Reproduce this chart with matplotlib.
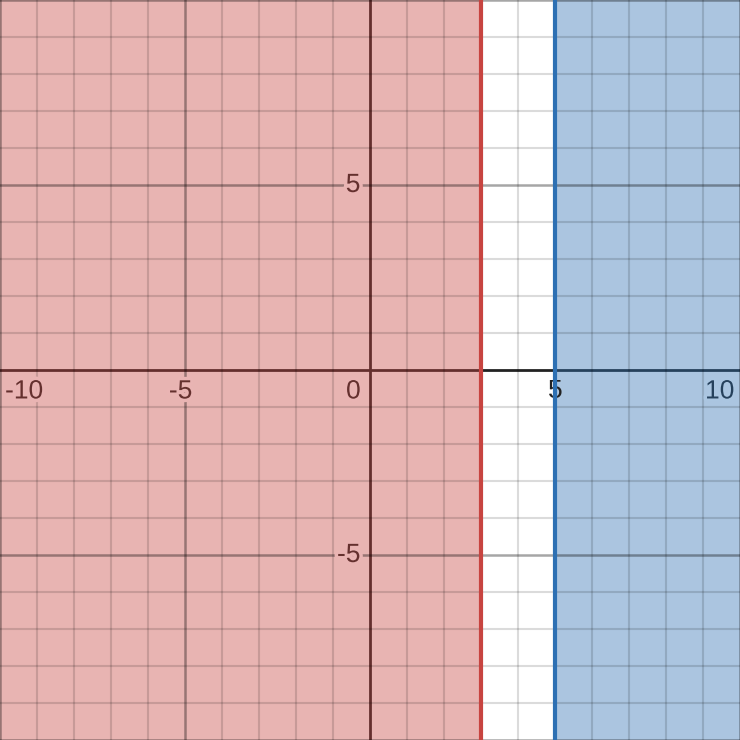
import matplotlib.pyplot as plt
import matplotlib.patheffects as pe
from matplotlib.colors import to_rgb
import numpy as np

# view window
x_min, x_max = -10, 10
y_min, y_max = -10, 10

# inequalities: x < 3 (red), x > 5 (blue)
red_bound = 3
blue_bound = 5
red_color = '#c74440'
blue_color = '#2d70b3'
fill_alpha = 0.4

x_ticks = [-10, -5, 0, 5, 10]
y_ticks = [-5, 5]

plt.rcParams['font.family'] = ['Liberation Sans', 'DejaVu Sans']


def blend(base, over, a):
    b = np.array(to_rgb(base))
    o = np.array(to_rgb(over))
    return tuple(b * (1 - a) + o * a)


def region_tint(x):
    # colour of the shading at a given x, None for unshaded
    if x < red_bound:
        return red_color
    if x > blue_bound:
        return blue_color
    return None


fig = plt.figure(figsize=(7.4, 7.4), dpi=100)
ax = fig.add_axes([0, 0, 1, 1])
ax.set_xlim(x_min, x_max)
ax.set_ylim(y_min, y_max)
ax.axis('off')

# axes (under the shading)
ax.axhline(0, color='#222222', lw=2, zorder=2)
ax.axvline(0, color='#222222', lw=2, zorder=2)

# shaded regions
ax.axvspan(x_min, red_bound, color=red_color, alpha=fill_alpha, lw=0, zorder=4)
ax.axvspan(blue_bound, x_max, color=blue_color, alpha=fill_alpha, lw=0, zorder=4)

# grid on top, translucent black
for v in np.arange(x_min, x_max + 1):
    if v == 0:
        continue
    major = v % 5 == 0
    ax.axvline(v, color='black', alpha=0.35 if major else 0.14, lw=1.8 if major else 1.5, zorder=5)
for v in np.arange(y_min, y_max + 1):
    if v == 0:
        continue
    major = v % 5 == 0
    ax.axhline(v, color='black', alpha=0.35 if major else 0.14, lw=1.8 if major else 1.5, zorder=5)

ax.axvline(red_bound, color=red_color, lw=3, zorder=6)
ax.axvline(blue_bound, color=blue_color, lw=3, zorder=6)


def label(xp, yp, s, ha, tint_x):
    tint = region_tint(tint_x)
    if tint is None:
        txt, bg = '#222222', 'white'
    else:
        txt = blend('#222222', tint, fill_alpha)
        bg = blend('white', tint, fill_alpha)
    ax.text(xp, yp, s, ha=ha, va='center', fontsize=19, color=txt,
            path_effects=[pe.withStroke(linewidth=5, foreground=bg)], zorder=7)


# tick labels
for t in x_ticks:
    if t == 0:
        label(-0.45, -0.58, '0', 'center', -0.45)
        continue
    xp = t
    if t == x_min:
        xp = t + 0.65
    elif t == x_max:
        xp = t - 0.55
    elif t < 0:
        xp = t - 0.12
    if t == blue_bound:
        ax.text(xp, -0.58, str(t), ha='center', va='center', fontsize=19,
                color='#222222', zorder=5.5)
        continue
    label(xp, -0.58, str(t), 'center', xp)
for t in y_ticks:
    label(-0.26, t, str(t), 'right', -0.5)

fig.savefig('out.png', dpi=100)
